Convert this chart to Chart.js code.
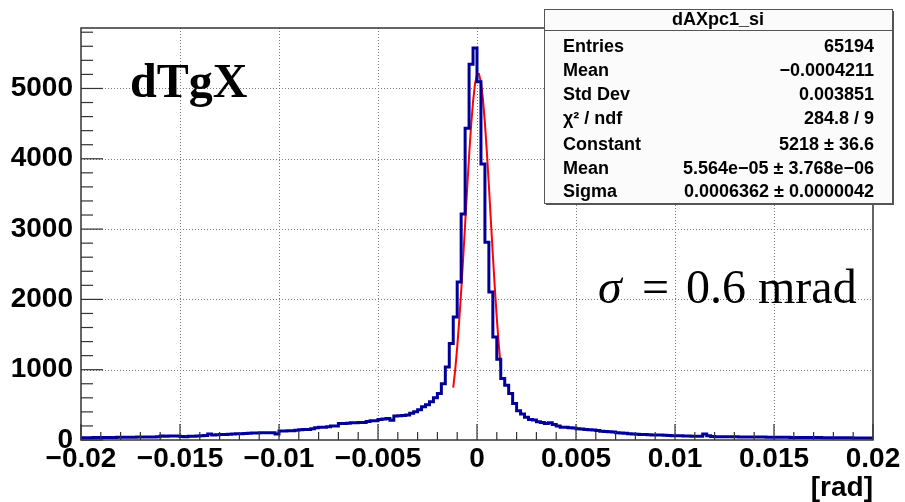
<!DOCTYPE html>
<html>
<head>
<meta charset="utf-8">
<script src="https://cdn.jsdelivr.net/npm/chart.js@4/dist/chart.umd.min.js"></script>
<style>
  html, body { margin: 0; padding: 0; background: #fff; }
  #wrap { width: 905px; height: 502px; }
</style>
</head>
<body>
<div id="wrap"><canvas id="histChart" width="905" height="502"></canvas></div>
<script>
// histogram binning: 200 bins from -0.02 to 0.02
var binLow = -0.02;
var binWidth = 0.0002;

// bin contents (left to right)
var counts = [
  30, 32, 33, 33, 34, 35, 35, 36, 36, 37, 38,
  38, 39, 40, 40, 41, 42, 42, 43, 44,
  45,
  57, 55, 56, 57, 57,
  50, 48, 52, 55, 58,
  62, 65, 85, 72, 75, 78,
  80, 82, 85, 88, 90, 92, 95, 98, 100,
  104, 104, 103, 102,
  85,
  128, 128, 130, 132, 140,
  145, 150, 151, 160, 175,
  180, 182, 190, 199,
  199, 236, 236,
  240, 244, 246, 248, 250,
  262, 274, 274,
  290, 300, 307,
  280,
  340, 345, 350,
  355, 380, 402,
  430, 472, 500,
  543, 600, 660,
  800, 1040, 1371, 1749, 2246, 3215, 4435, 5343,
  // right half, from x = 0
  5575, 5097, 3925, 2813, 2104, 1465, 1150, 875, 780, 660,
  520, 416, 369, 322, 290, 284, 260, 250, 236, 245,
  220, 200, 180, 180, 175, 170, 160, 155, 150, 145,
  142, 135, 125, 120, 118, 115, 104, 100, 95, 90,
  85, 82, 80, 78, 75, 72, 71, 70, 68, 65,
  62, 62, 60, 58, 57, 55, 55, 54, 85, 60,
  50, 48, 47, 47, 46, 45, 45, 44, 44, 43,
  42, 42, 41, 41, 40, 40, 39, 39, 38, 38,
  37, 37, 36, 36, 35, 35, 34, 34, 33, 33,
  32, 32, 32, 31, 31, 31, 30, 30, 30, 30
];

// gaussian fit curve (red), sampled points
var fitX = [-0.0012, -0.0011, -0.0010, -0.0009, -0.0008, -0.0007, -0.0006, -0.0005, -0.0004,
            -0.0003, -0.0002, -0.0001, 0.0, 0.0001, 0.0002, 0.0003, 0.0004, 0.0005, 0.0006,
            0.0007, 0.0008, 0.0009, 0.0010, 0.0011, 0.0012];
var fitY = [745, 1002, 1317, 1689, 2112, 2578, 3068, 3564, 4038,
            4464, 4814, 5064, 5198, 5205, 5085, 4847, 4507, 4088, 3618,
            3124, 2632, 2163, 1734, 1356, 1035];

// axis tick labels
var xTicks = [-0.02, -0.015, -0.01, -0.005, 0, 0.005, 0.01, 0.015, 0.02];
var yTicks = [0, 1000, 2000, 3000, 4000, 5000];

// stats box
var statsTitle = 'dAXpc1_si';
var statsLabels = ['Entries', 'Mean', 'Std Dev', '\u03C7\u00B2 / ndf', 'Constant', 'Mean', 'Sigma'];
var statsValues = ['65194', '\u22120.0004211', '0.003851', '284.8 / 9', '5218 \u00B1 36.6',
                   '5.564e\u221205 \u00B1 3.768e\u221206', '0.0006362 \u00B1 0.0000042'];

var xMin = -0.02, xMax = 0.02, yMax = 5860;

// build step points: each bin left edge with its content, plus the last right edge
var histPoints = counts.map(function (c, i) { return { x: binLow + i * binWidth, y: c }; });
histPoints.push({ x: binLow + counts.length * binWidth, y: counts[counts.length - 1] });
var fitPoints = fitX.map(function (x, i) { return { x: x, y: fitY[i] }; });

function fmtX(v) {
  var r = Math.round(v * 1000) / 1000;
  if (r === 0) return '0';
  return (r < 0 ? '\u2212' : '') + String(Math.abs(r));
}

var frameColor = '#333';

var rootStyle = {
  id: 'rootStyle',
  beforeDatasetsDraw: function (chart) {
    var ctx = chart.ctx, a = chart.chartArea;
    var xs = chart.scales.x, ys = chart.scales.y;
    ctx.save();
    ctx.strokeStyle = '#777';
    ctx.lineWidth = 1;
    ctx.setLineDash([1, 2]);
    xTicks.slice(1, -1).forEach(function (v) {
      var px = Math.round(xs.getPixelForValue(v)) + 0.5;
      ctx.beginPath(); ctx.moveTo(px, a.top); ctx.lineTo(px, a.bottom); ctx.stroke();
    });
    yTicks.slice(1).forEach(function (v) {
      var py = Math.round(ys.getPixelForValue(v)) + 0.5;
      ctx.beginPath(); ctx.moveTo(a.left, py); ctx.lineTo(a.right, py); ctx.stroke();
    });
    ctx.restore();
  },
  afterDatasetsDraw: function (chart) {
    var ctx = chart.ctx, a = chart.chartArea;
    var xs = chart.scales.x, ys = chart.scales.y;
    ctx.save();
    // frame
    ctx.strokeStyle = frameColor;
    ctx.lineWidth = 1.5;
    ctx.strokeRect(a.left, a.top, a.right - a.left, a.bottom - a.top);
    // x ticks (inward from bottom), minor every 0.001
    ctx.lineWidth = 1.2;
    for (var i = 0; i <= 40; i++) {
      var px = xs.getPixelForValue(xMin + i * 0.001);
      var len = (i % 5 === 0) ? 16 : 8;
      ctx.beginPath(); ctx.moveTo(px, a.bottom); ctx.lineTo(px, a.bottom - len); ctx.stroke();
    }
    // y ticks (inward from left), minor every 200
    for (var yv = 0; yv <= yMax; yv += 200) {
      var py = ys.getPixelForValue(yv);
      var l2 = (yv % 1000 === 0) ? 22 : 12;
      ctx.beginPath(); ctx.moveTo(a.left, py); ctx.lineTo(a.left + l2, py); ctx.stroke();
    }

    // labels
    ctx.fillStyle = '#000';
    ctx.font = 'bold 48px "Liberation Serif", serif';
    ctx.textBaseline = 'alphabetic';
    ctx.textAlign = 'left';
    ctx.fillText('dTgX', 130, 97);

    ctx.font = 'italic 48px "Liberation Serif", serif';
    ctx.fillText('\u03C3', 598, 303);
    ctx.font = '48px "Liberation Serif", serif';
    ctx.fillText('=', 642, 303);
    ctx.fillText('0.6 mrad', 686, 303);

    ctx.font = 'bold 28px "Liberation Sans", Arial, sans-serif';
    ctx.textAlign = 'right';
    ctx.fillText('[rad]', 873, 496);

    // stats box
    var bx = 544, by = 9, bw = 348, bh = 194;
    ctx.fillStyle = '#555';
    ctx.fillRect(bx + 2, by + 2, bw, bh);
    ctx.fillStyle = '#fbfbfb';
    ctx.fillRect(bx, by, bw, bh);
    ctx.strokeStyle = '#555';
    ctx.lineWidth = 1;
    ctx.strokeRect(bx + 0.5, by + 0.5, bw, bh);
    ctx.beginPath(); ctx.moveTo(bx, 30.5); ctx.lineTo(bx + bw, 30.5); ctx.stroke();

    ctx.fillStyle = '#000';
    ctx.textBaseline = 'middle';
    ctx.font = 'bold 18px "Liberation Sans", Arial, sans-serif';
    ctx.textAlign = 'center';
    ctx.fillText(statsTitle, 718, 20);
    var rowY = [47.5, 71, 95.5, 119.5, 145, 169, 192.5];
    for (var r = 0; r < statsLabels.length; r++) {
      ctx.textAlign = 'left';
      ctx.fillText(statsLabels[r], 563, rowY[r]);
      ctx.textAlign = 'right';
      ctx.fillText(statsValues[r], 874, rowY[r]);
    }
    ctx.restore();
  }
};

var histChart = new Chart(document.getElementById('histChart'), {
  type: 'line',
  data: {
    datasets: [
      {
        data: histPoints,
        borderColor: '#000099',
        borderWidth: 3,
        stepped: 'after',
        pointRadius: 0,
        fill: false
      },
      {
        data: fitPoints,
        borderColor: '#ff0000',
        borderWidth: 2,
        tension: 0,
        pointRadius: 0,
        fill: false
      }
    ]
  },
  options: {
    responsive: false,
    animation: false,
    devicePixelRatio: 1,
    layout: { padding: { top: 28, right: 32, left: 0, bottom: 0 } },
    plugins: { legend: { display: false }, tooltip: { enabled: false } },
    scales: {
      x: {
        type: 'linear',
        min: xMin,
        max: xMax,
        grid: { display: false, drawTicks: false },
        border: { display: false },
        afterFit: function (s) { s.height = 62; },
        afterBuildTicks: function (s) { s.ticks = xTicks.map(function (v) { return { value: v }; }); },
        ticks: {
          autoSkip: false,
          maxRotation: 0,
          padding: 2,
          color: '#000',
          font: { family: '"Liberation Sans", Arial, sans-serif', size: 28, weight: 'bold' },
          callback: fmtX
        }
      },
      y: {
        min: 0,
        max: yMax,
        grid: { display: false, drawTicks: false },
        border: { display: false },
        afterFit: function (s) { s.width = 81; },
        afterBuildTicks: function (s) { s.ticks = yTicks.map(function (v) { return { value: v }; }); },
        ticks: {
          autoSkip: false,
          padding: 8,
          color: '#000',
          font: { family: '"Liberation Sans", Arial, sans-serif', size: 28, weight: 'bold' },
          callback: function (v) { return String(v); }
        }
      }
    }
  },
  plugins: [rootStyle]
});
</script>
</body>
</html>
